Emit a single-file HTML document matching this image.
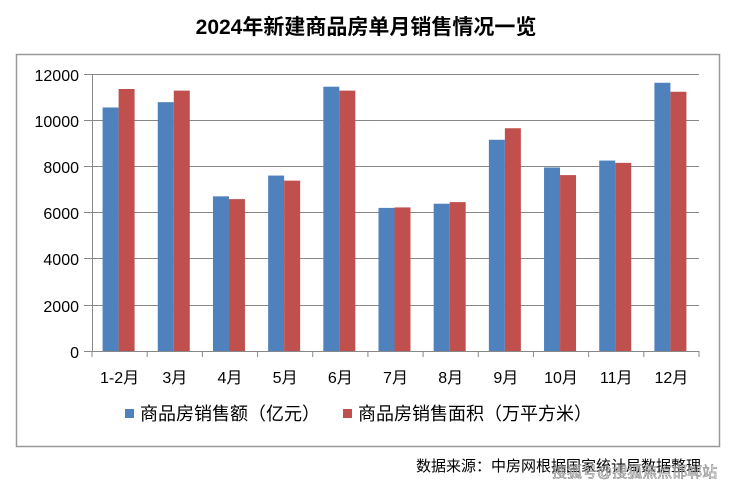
<!DOCTYPE html>
<html><head><meta charset="utf-8"><style>
body{margin:0;background:#fff;width:740px;height:487px;overflow:hidden}
text{font-family:"Liberation Sans","Noto Sans CJK SC",sans-serif}
</style></head><body>
<svg width="740" height="487" xmlns="http://www.w3.org/2000/svg">
<text x="366" y="34" text-anchor="middle" font-size="21" font-weight="bold" fill="#000">2024年新建商品房单月销售情况一览</text>
<rect x="16.5" y="54.5" width="703" height="392" fill="none" stroke="#999" stroke-width="1.5"/>
<g stroke="#888" stroke-width="1">
<line x1="84" y1="74.5" x2="699" y2="74.5"/><line x1="84" y1="120.5" x2="699" y2="120.5"/>
<line x1="84" y1="166.5" x2="699" y2="166.5"/><line x1="84" y1="212.5" x2="699" y2="212.5"/>
<line x1="84" y1="258.5" x2="699" y2="258.5"/><line x1="84" y1="305.5" x2="699" y2="305.5"/>
<line x1="84" y1="351.5" x2="699" y2="351.5"/><line x1="92.5" y1="74" x2="92.5" y2="351"/>
</g>
<g id="bars"></g>
<g font-size="16" fill="#000" text-anchor="end">
<text x="79" y="81">12000</text><text x="79" y="127">10000</text><text x="79" y="173">8000</text>
<text x="79" y="219">6000</text><text x="79" y="265">4000</text><text x="79" y="312">2000</text><text x="79" y="358">0</text>
</g>
<g id="xl" font-size="16" text-anchor="middle"></g>
<rect x="125" y="409" width="9" height="9" fill="#4f81bd"/>
<text x="140" y="420" font-size="18">商品房销售额（亿元）</text>
<rect x="343" y="409" width="9" height="9" fill="#c0504d"/>
<text x="358" y="420" font-size="18">商品房销售面积（万平方米）</text>
<text x="416" y="471" font-size="15">数据来源：中房网根据国家统计局数据整理</text>
<text x="552" y="477" font-size="15" fill="#fff" stroke="#666" stroke-width="0.6" opacity="0.8">搜狐号@搜狐焦点邯郸站</text>
</svg>
<script>
var b=[10550,10780,6700,7600,11450,6200,6380,9150,7950,8250,11620],r=[11350,11280,6580,7380,11280,6220,6450,9650,7620,8150,11230];
var L=["1-2月","3月","4月","5月","6月","7月","8月","9月","10月","11月","12月"];
var s="",t="",w=(699-92)/11,k=277/12000;
for(var i=0;i<11;i++){var c=92+w*(i+0.5);
s+='<rect x="'+(c-17)+'" y="'+(351-b[i]*k)+'" width="16" height="'+b[i]*k+'" fill="#4f81bd"/>';
s+='<rect x="'+(c-1)+'" y="'+(351-r[i]*k)+'" width="16" height="'+r[i]*k+'" fill="#c0504d"/>';
s+='<line x1="'+(92+w*(i+1))+'" y1="351" x2="'+(92+w*(i+1))+'" y2="357" stroke="#888"/>';
t+='<text x="'+c+'" y="383">'+L[i]+'</text>';}
s+='<line x1="92" y1="351" x2="92" y2="357" stroke="#888"/>';
document.getElementById("bars").innerHTML=s;document.getElementById("xl").innerHTML=t;
</script>
</body></html>
